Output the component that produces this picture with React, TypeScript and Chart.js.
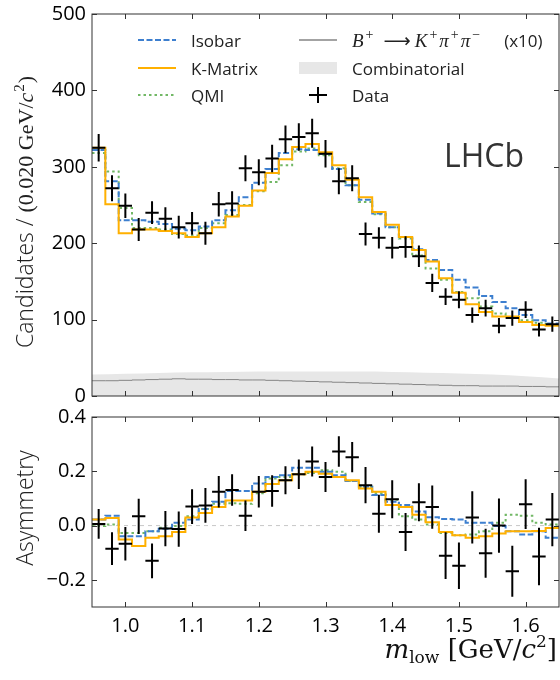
import React, { useEffect, useRef } from "react";
import { Chart, registerables } from "chart.js";
Chart.register(...registerables);

// ---------------- data ----------------
const binCentres = [0.96, 0.98, 1.0, 1.02, 1.04, 1.06, 1.08, 1.1, 1.12, 1.14, 1.16, 1.18, 1.2, 1.22, 1.24, 1.26, 1.28, 1.3, 1.32, 1.34, 1.36, 1.38, 1.4, 1.42, 1.44, 1.46, 1.48, 1.5, 1.52, 1.54, 1.56, 1.58, 1.6, 1.62, 1.64];
const BIN_HALF = 0.01;

const dataCounts = [325, 272, 249, 218, 240, 232, 221, 226, 213, 251, 252, 298, 293, 311, 336, 339, 344, 317, 281, 285, 212, 207, 194, 195, 183, 148, 130, 126, 106, 115, 92, 102, 113, 87, 94];
const dataCountErr = [18, 17, 16, 15, 15, 15, 15, 15, 15, 16, 16, 17, 17, 18, 18, 18, 19, 18, 17, 17, 15, 14, 14, 14, 14, 12, 11, 11, 10, 11, 10, 10, 11, 9, 10];
const isobarCounts = [322, 281, 230, 230, 228, 225, 219, 217, 222, 230, 243, 260, 279, 297, 318, 323, 322, 317, 297, 276, 257, 239, 221, 208, 192, 178, 165, 152, 142, 131, 123, 115, 106, 99, 95];
const kmatrixCounts = [325, 251, 213, 218, 218, 216, 213, 208, 213, 221, 235, 249, 269, 292, 310, 326, 330, 319, 302, 283, 260, 241, 224, 208, 191, 176, 154, 135, 120, 110, 104, 104, 97, 93, 92];
const qmiCounts = [318, 294, 246, 220, 220, 218, 212, 210, 220, 226, 237, 250, 268, 280, 302, 320, 324, 315, 298, 276, 254, 238, 221, 206, 184, 167, 152, 136, 128, 117, 108, 102, 99, 96, 93];
const bkppCounts = [20, 20, 20.5, 21, 21.5, 22, 22.5, 22, 22, 21.5, 21.5, 21, 21, 20.5, 20, 19.5, 19, 18.5, 18, 17.5, 17, 16.5, 16, 15.5, 15, 14.5, 14, 13.5, 13.5, 13, 13, 13, 12.5, 12.5, 12];
const combMass = [0.95, 1.0, 1.05, 1.1, 1.15, 1.2, 1.25, 1.3, 1.35, 1.4, 1.45, 1.5, 1.55, 1.6, 1.65];
const combCounts = [28, 29, 30, 31, 31.5, 32, 32, 32, 32, 31.5, 30.5, 29.5, 28, 26, 23];

const dataAsym = [0.006, -0.085, -0.067, 0.034, -0.13, -0.011, -0.013, 0.07, 0.074, 0.125, 0.131, 0.036, 0.125, 0.127, 0.167, 0.189, 0.236, 0.179, 0.273, 0.252, 0.149, 0.044, 0.097, -0.024, 0.086, 0.068, -0.111, -0.148, 0.03, -0.102, 0.0, -0.168, 0.079, -0.114, 0.022];
const dataAsymErr = [0.055, 0.06, 0.062, 0.065, 0.064, 0.065, 0.065, 0.064, 0.064, 0.058, 0.058, 0.056, 0.058, 0.058, 0.052, 0.054, 0.055, 0.055, 0.056, 0.056, 0.067, 0.07, 0.07, 0.07, 0.07, 0.08, 0.086, 0.086, 0.096, 0.09, 0.1, 0.094, 0.092, 0.106, 0.098];
const isobarAsym = [0.022, 0.036, -0.039, -0.039, -0.021, -0.012, 0.01, 0.022, 0.061, 0.088, 0.127, 0.127, 0.155, 0.179, 0.185, 0.213, 0.213, 0.198, 0.185, 0.164, 0.143, 0.113, 0.088, 0.076, 0.052, 0.031, 0.024, 0.022, 0.01, 0.01, -0.002, -0.021, -0.033, -0.021, -0.045];
const kmatrixAsym = [0.022, 0.028, -0.051, -0.075, -0.045, -0.039, -0.024, 0.03, 0.046, 0.068, 0.092, 0.092, 0.125, 0.153, 0.167, 0.189, 0.198, 0.191, 0.179, 0.167, 0.137, 0.125, 0.076, 0.068, 0.04, 0.012, -0.024, -0.036, -0.045, -0.039, -0.029, -0.021, -0.021, -0.02, -0.009];
const qmiAsym = [-0.002, 0.004, -0.027, -0.027, -0.021, -0.008, -0.002, 0.034, 0.061, 0.08, 0.082, 0.08, 0.119, 0.173, 0.179, 0.189, 0.194, 0.204, 0.198, 0.164, 0.143, 0.119, 0.095, 0.034, 0.022, 0.004, -0.027, -0.036, -0.033, -0.021, 0.01, 0.04, 0.036, 0.01, 0.004];

const xTickValues = [1.0, 1.1, 1.2, 1.3, 1.4, 1.5, 1.6];
const countTickValues = [0, 100, 200, 300, 400, 500];
const asymTickValues = [-0.2, 0.0, 0.2, 0.4];

// ---------------- styles ----------------
const SANS = '"Open Sans", "Noto Sans", sans-serif';
const SERIF = '"DejaVu Serif", serif';
const SERIF2 = '"Liberation Serif", serif';
const BLUE = "#3d7fcf";
const ORANGE = "#ffb000";
const GREEN = "#72b866";
const GREY_LINE = "#858585";
const GREY_FILL = "#e7e7e7";
const BLUE_DASH = [6, 2.5];
const GREEN_DASH = [2.5, 3];

type Seg = { t: string; f: string; dy?: number; dx?: number };

function drawRich(ctx: CanvasRenderingContext2D, x: number, y: number, segs: Seg[], align: "left" | "center" | "right") {
  let w = 0;
  for (const s of segs) {
    ctx.font = s.f;
    w += ctx.measureText(s.t).width + (s.dx || 0);
  }
  let cx = align === "left" ? x : align === "center" ? x - w / 2 : x - w;
  ctx.textAlign = "left";
  ctx.textBaseline = "alphabetic";
  for (const s of segs) {
    ctx.font = s.f;
    cx += s.dx || 0;
    ctx.fillText(s.t, cx, y + (s.dy || 0));
    cx += ctx.measureText(s.t).width;
  }
}

function steps(vals: number[]) {
  const pts = vals.map((v, i) => ({ x: binCentres[i] - BIN_HALF, y: v }));
  pts.push({ x: binCentres[vals.length - 1] + BIN_HALF, y: vals[vals.length - 1] });
  return pts;
}

function histDataset(label: string, vals: number[], color: string, dash: number[], order: number, width = 2) {
  return {
    label,
    data: steps(vals),
    borderColor: color,
    borderWidth: width,
    borderDash: dash,
    stepped: true as const,
    pointRadius: 0,
    fill: false,
    order,
  };
}

function frameAndTicks(chart: any) {
  const { ctx, chartArea: a, scales } = chart;
  ctx.save();
  ctx.strokeStyle = "#333";
  ctx.lineWidth = 1;
  ctx.strokeRect(a.left, a.top, a.right - a.left, a.bottom - a.top);
  const TL = 5;
  ctx.beginPath();
  for (const v of xTickValues) {
    const px = Math.round(scales.x.getPixelForValue(v)) + 0.5;
    ctx.moveTo(px, a.bottom);
    ctx.lineTo(px, a.bottom - TL);
    ctx.moveTo(px, a.top);
    ctx.lineTo(px, a.top + TL);
  }
  for (const t of scales.y.ticks) {
    const py = Math.round(scales.y.getPixelForValue(t.value)) + 0.5;
    ctx.moveTo(a.left, py);
    ctx.lineTo(a.left + TL, py);
    ctx.moveTo(a.right, py);
    ctx.lineTo(a.right - TL, py);
  }
  ctx.stroke();
  ctx.restore();
}

function drawCrosses(chart: any, vals: number[], errs: number[]) {
  const { ctx, chartArea: a, scales } = chart;
  ctx.save();
  ctx.beginPath();
  ctx.rect(a.left, a.top, a.right - a.left, a.bottom - a.top);
  ctx.clip();
  ctx.strokeStyle = "#000";
  ctx.lineWidth = 2;
  ctx.beginPath();
  vals.forEach((v, i) => {
    const c = binCentres[i];
    const x0 = scales.x.getPixelForValue(c - BIN_HALF);
    const x1 = scales.x.getPixelForValue(c + BIN_HALF);
    const xc = scales.x.getPixelForValue(c);
    const yc = scales.y.getPixelForValue(v);
    const y0 = scales.y.getPixelForValue(v - errs[i]);
    const y1 = scales.y.getPixelForValue(v + errs[i]);
    ctx.moveTo(x0, yc);
    ctx.lineTo(x1, yc);
    ctx.moveTo(xc, y0);
    ctx.lineTo(xc, y1);
  });
  ctx.stroke();
  ctx.restore();
}

const topPlugin = {
  id: "topDeco",
  afterDatasetsDraw(chart: any) {
    drawCrosses(chart, dataCounts, dataCountErr);
  },
  afterDraw(chart: any) {
    frameAndTicks(chart);
    const ctx: CanvasRenderingContext2D = chart.ctx;
    ctx.save();
    // legend column 1
    const rows = [40, 68, 95];
    const l1 = 138, l2 = 176, tx1 = 191;
    const items1 = [
      { label: "Isobar", color: BLUE, dash: BLUE_DASH },
      { label: "K-Matrix", color: ORANGE, dash: [] as number[] },
      { label: "QMI", color: GREEN, dash: GREEN_DASH },
    ];
    items1.forEach((it, i) => {
      ctx.strokeStyle = it.color;
      ctx.lineWidth = 2;
      ctx.setLineDash(it.dash);
      ctx.beginPath();
      ctx.moveTo(l1, rows[i]);
      ctx.lineTo(l2, rows[i]);
      ctx.stroke();
      ctx.setLineDash([]);
      ctx.fillStyle = "#222";
      ctx.font = `17px ${SANS}`;
      ctx.textAlign = "left";
      ctx.textBaseline = "alphabetic";
      ctx.fillText(it.label, tx1, rows[i] + 7);
    });
    // legend column 2
    const m1 = 299, m2 = 337, tx2 = 352;
    ctx.strokeStyle = GREY_LINE;
    ctx.lineWidth = 1.5;
    ctx.beginPath();
    ctx.moveTo(m1, rows[0]);
    ctx.lineTo(m2, rows[0]);
    ctx.stroke();
    ctx.fillStyle = "#222";
    const it = `italic 19px ${SERIF2}`;
    const sup = `14px ${SERIF2}`;
    drawRich(ctx, tx2, rows[0] + 7, [
      { t: "B", f: it },
      { t: "+", f: sup, dy: -8, dx: 2 },
      { t: "\u27f6", f: `19px "DejaVu Sans", sans-serif`, dx: 10 },
      { t: "K", f: it, dx: 4 },
      { t: "+", f: sup, dy: -8, dx: 2 },
      { t: "\u03c0", f: it, dx: 2 },
      { t: "+", f: sup, dy: -8, dx: 2 },
      { t: "\u03c0", f: it, dx: 2 },
      { t: "\u2212", f: sup, dy: -8, dx: 2 },
      { t: "(x10)", f: `17px ${SANS}`, dx: 24 },
    ], "left");
    ctx.fillStyle = GREY_FILL;
    ctx.fillRect(m1, rows[1] - 6, m2 - m1, 12);
    ctx.fillStyle = "#222";
    ctx.font = `17px ${SANS}`;
    ctx.fillText("Combinatorial", tx2, rows[1] + 7);
    ctx.strokeStyle = "#000";
    ctx.lineWidth = 2;
    ctx.beginPath();
    ctx.moveTo(309, rows[2]);
    ctx.lineTo(327, rows[2]);
    ctx.moveTo(318, rows[2] - 8);
    ctx.lineTo(318, rows[2] + 8);
    ctx.stroke();
    ctx.fillText("Data", tx2, rows[2] + 7);
    // LHCb
    ctx.fillStyle = "#333";
    ctx.font = `32px ${SANS}`;
    ctx.fillText("LHCb", 444, 167);
    // y title
    ctx.fillStyle = "#222";
    ctx.translate(33, 212);
    ctx.rotate(-Math.PI / 2);
    drawRich(ctx, 0, 0, [
      { t: "Candidates / ", f: `300 23px ${SANS}` },
      { t: "(0.020 GeV/", f: `22px ${SERIF2}` },
      { t: "c", f: `italic 22px ${SERIF2}` },
      { t: "2", f: `15px ${SERIF2}`, dy: -9, dx: 1 },
      { t: ")", f: `22px ${SERIF2}`, dx: 1 },
    ], "center");
    ctx.restore();
  },
};

const bottomPlugin = {
  id: "botDeco",
  beforeDatasetsDraw(chart: any) {
    const { ctx, chartArea: a, scales } = chart;
    const y0 = scales.y.getPixelForValue(0);
    ctx.save();
    ctx.strokeStyle = "#c8c8c8";
    ctx.lineWidth = 1;
    ctx.setLineDash([4, 4]);
    ctx.beginPath();
    ctx.moveTo(a.left, y0);
    ctx.lineTo(a.right, y0);
    ctx.stroke();
    ctx.restore();
  },
  afterDatasetsDraw(chart: any) {
    drawCrosses(chart, dataAsym, dataAsymErr);
  },
  afterDraw(chart: any) {
    frameAndTicks(chart);
    const ctx: CanvasRenderingContext2D = chart.ctx;
    ctx.save();
    ctx.fillStyle = "#111";
    // x title (page y 658 -> canvas y 258)
    drawRich(ctx, 557, 258, [
      { t: "m", f: `italic 26px ${SERIF}` },
      { t: "low", f: `17px ${SERIF}`, dy: 5 },
      { t: " [GeV/", f: `26px ${SERIF}` },
      { t: "c", f: `italic 26px ${SERIF}` },
      { t: "2", f: `17px ${SERIF}`, dy: -11 },
      { t: "]", f: `26px ${SERIF}` },
    ], "right");
    ctx.fillStyle = "#222";
    ctx.translate(33, 108);
    ctx.rotate(-Math.PI / 2);
    drawRich(ctx, 0, 0, [{ t: "Asymmetry", f: `300 23px ${SANS}` }], "center");
    ctx.restore();
  },
};

const tickFont = { family: '"Open Sans", "Noto Sans", sans-serif', size: 20 };

function fixedY(width: number) {
  return (s: any) => {
    s.width = width;
    s.paddingTop = 0;
    s.paddingBottom = 0;
  };
}

export default function App() {
  const topRef = useRef<HTMLCanvasElement>(null);
  const botRef = useRef<HTMLCanvasElement>(null);

  useEffect(() => {
    const top = new Chart(topRef.current as HTMLCanvasElement, {
      type: "line",
      data: {
        datasets: [
          {
            label: "Combinatorial",
            data: combMass.map((m, i) => ({ x: m, y: combCounts[i] })),
            borderWidth: 0,
            borderColor: GREY_FILL,
            backgroundColor: GREY_FILL,
            fill: "origin",
            pointRadius: 0,
            cubicInterpolationMode: "monotone",
            order: 6,
          } as any,
          histDataset("B+ -> K+ pi+ pi- (x10)", bkppCounts, GREY_LINE, [], 5, 1),
          histDataset("QMI", qmiCounts, GREEN, GREEN_DASH, 4),
          histDataset("Isobar", isobarCounts, BLUE, BLUE_DASH, 3),
          histDataset("K-Matrix", kmatrixCounts, ORANGE, [], 2),
        ],
      },
      options: {
        responsive: false,
        maintainAspectRatio: false,
        animation: false,
        events: [],
        layout: { padding: { left: 0, right: 1, top: 14, bottom: 16 } },
        plugins: { legend: { display: false }, tooltip: { enabled: false } },
        scales: {
          x: { type: "linear", min: 0.95, max: 1.65, display: false },
          y: {
            type: "linear",
            min: 0,
            max: 500,
            afterBuildTicks: (s: any) => {
              s.ticks = countTickValues.map((v) => ({ value: v }));
            },
            afterFit: fixedY(92),
            grid: { display: false, drawTicks: false },
            border: { display: false },
            ticks: { font: tickFont, color: "#000", padding: 6 },
          },
        },
      },
      plugins: [topPlugin],
    } as any);

    const bot = new Chart(botRef.current as HTMLCanvasElement, {
      type: "line",
      data: {
        datasets: [
          histDataset("QMI", qmiAsym, GREEN, GREEN_DASH, 4),
          histDataset("Isobar", isobarAsym, BLUE, BLUE_DASH, 3),
          histDataset("K-Matrix", kmatrixAsym, ORANGE, [], 2),
        ],
      },
      options: {
        responsive: false,
        maintainAspectRatio: false,
        animation: false,
        events: [],
        layout: { padding: { left: 0, right: 1, top: 17, bottom: 0 } },
        plugins: { legend: { display: false }, tooltip: { enabled: false } },
        scales: {
          x: {
            type: "linear",
            min: 0.95,
            max: 1.65,
            afterBuildTicks: (s: any) => {
              s.ticks = xTickValues.map((v) => ({ value: v }));
            },
            afterFit: (s: any) => {
              s.height = 73;
              s.paddingLeft = 0;
              s.paddingRight = 0;
            },
            grid: { display: false, drawTicks: false },
            border: { display: false },
            ticks: {
              font: tickFont,
              color: "#000",
              padding: 7,
              maxRotation: 0,
              autoSkip: false,
              callback: (v: any) => Number(v).toFixed(1),
            },
          },
          y: {
            type: "linear",
            min: -0.3,
            max: 0.4,
            afterBuildTicks: (s: any) => {
              s.ticks = asymTickValues.map((v) => ({ value: v }));
            },
            afterFit: fixedY(92),
            grid: { display: false, drawTicks: false },
            border: { display: false },
            ticks: {
              font: tickFont,
              color: "#000",
              padding: 6,
              callback: (v: any) => {
                const n = Number(v);
                return (n < -1e-9 ? "\u2212" : "") + Math.abs(n).toFixed(1);
              },
            },
          },
        },
      },
      plugins: [bottomPlugin],
    } as any);

    return () => {
      top.destroy();
      bot.destroy();
    };
  }, []);

  return (
    <div style={{ position: "absolute", left: 0, top: 0, width: 560, height: 680, background: "#fff" }}>
      <canvas ref={topRef} width={560} height={412} style={{ position: "absolute", left: 0, top: 0, width: 560, height: 412 }} />
      <canvas ref={botRef} width={560} height={280} style={{ position: "absolute", left: 0, top: 400, width: 560, height: 280 }} />
    </div>
  );
}
